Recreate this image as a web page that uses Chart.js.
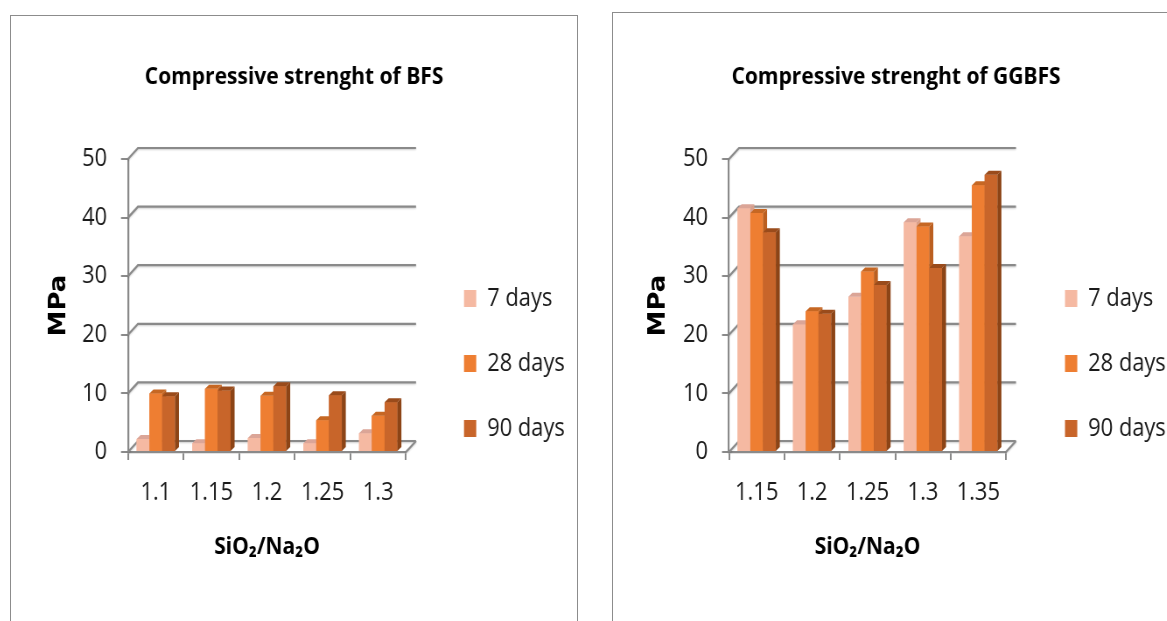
<!DOCTYPE html>
<html>
<head>
<meta charset="utf-8">
<script src="https://cdn.jsdelivr.net/npm/chart.js@4.4.0/dist/chart.umd.min.js"></script>
<style>
  html, body { margin: 0; padding: 0; background: #fff; overflow: hidden; width: 1167px; height: 621px; }
  .panel { position: absolute; box-sizing: border-box; border: 1px solid #8c8c8c; border-bottom: none; background: #fff; overflow: hidden; }
  #p1 { left: 10px; top: 15px; width: 568px; height: 606px; }
  #p2 { left: 612px; top: 12px; width: 568px; height: 609px; }
  /* the original is a squeezed Excel export: narrow everything a little */
  .panel canvas { display: block; transform: scaleX(0.875); transform-origin: 0 0; }
</style>
</head>
<body>
<div class="panel" id="p1"><canvas id="c1" width="647" height="605"></canvas></div>
<div class="panel" id="p2"><canvas id="c2" width="647" height="608"></canvas></div>
<script>
// data (MPa)
const seriesNames = ['7 days', '28 days', '90 days'];

const bfsRatios = ['1.1', '1.15', '1.2', '1.25', '1.3'];
const bfs7  = [2.2, 1.5, 2.4, 1.5, 3.2];
const bfs28 = [10.0, 10.8, 9.6, 5.4, 6.2];
const bfs90 = [9.5, 10.5, 11.2, 9.7, 8.5];

const ggbfsRatios = ['1.15', '1.2', '1.25', '1.3', '1.35'];
const ggbfs7  = [41.6, 21.8, 26.5, 39.2, 36.8];
const ggbfs28 = [40.8, 24.0, 30.8, 38.5, 45.5];
const ggbfs90 = [37.5, 23.6, 28.5, 31.4, 47.3];

const yMin = 0, yMax = 50, yStep = 10;

// front / side / top colours of the 3d columns
const front = ['#f5b9a2', '#ee7e32', '#c8652a'];
const side  = ['#d99f89', '#bb5f20', '#8c4416'];
const top3d = ['#dba597', '#c66723', '#9a4b1b'];

const K = 0.875; // horizontal squeeze set in the css
const FONT = "'Open Sans', 'DejaVu Sans', sans-serif";
const GRID = '#8a8a8a';

// fake 3d: back wall grid lines + side/top faces of every column
const depth3d = {
  id: 'depth3d',
  beforeDatasetsDraw(chart, args, o) {
    const {ctx, chartArea: a, scales: {y}} = chart;
    ctx.save();
    ctx.strokeStyle = GRID;
    ctx.lineWidth = 2.2;
    ctx.shadowColor = 'rgba(0,0,0,0.2)';
    ctx.shadowBlur = 2;
    ctx.shadowOffsetY = 1;
    ctx.beginPath();
    y.ticks.forEach(t => {
      const py = y.getPixelForValue(t.value);
      ctx.moveTo(a.left, py);
      ctx.lineTo(a.left + o.dx, py - o.dy);
      ctx.lineTo(a.right + o.dx, py - o.dy);
    });
    ctx.moveTo(a.right, a.bottom);
    ctx.lineTo(a.right + o.dx, a.bottom - o.dy);
    ctx.stroke();
    ctx.restore();
  },
  afterDatasetsDraw(chart, args, o) {
    const ctx = chart.ctx;
    const metas = chart.getSortedVisibleDatasetMetas();
    const bx = o.barX, by = o.barY;
    for (let i = 0; i < chart.data.labels.length; i++) {
      metas.forEach(meta => {
        const el = meta.data[i];
        const {x, y, base, width} = el.getProps(['x', 'y', 'base', 'width'], true);
        const l = x - width / 2, r = x + width / 2;
        el.draw(ctx);
        ctx.save();
        ctx.fillStyle = side[meta.index];
        ctx.beginPath();
        ctx.moveTo(r, y); ctx.lineTo(r + bx, y - by); ctx.lineTo(r + bx, base - by); ctx.lineTo(r, base);
        ctx.closePath(); ctx.fill();
        ctx.fillStyle = top3d[meta.index];
        ctx.beginPath();
        ctx.moveTo(l, y); ctx.lineTo(l + bx, y - by); ctx.lineTo(r + bx, y - by); ctx.lineTo(r, y);
        ctx.closePath(); ctx.fill();
        ctx.restore();
      });
    }
  }
};

// move the legend block to where the original has it
const legendNudge = {
  id: 'legendNudge',
  afterLayout(chart, args, o) {
    const lg = chart.legend;
    if (!lg) return;
    lg.left += o.dx;
    lg.right = chart.width;
    lg.top += o.dy; lg.bottom += o.dy;
  }
};

// g holds page pixel positions inside the panel; converted to canvas units here
function makeChart(id, titleText, labels, v7, v28, v90, g) {
  const canvas = document.getElementById(id);
  const pad = 50;
  const areaLeft = g.areaLeft / K, areaRight = g.areaRight / K;
  return new Chart(canvas, {
    type: 'bar',
    data: {
      labels: labels,
      datasets: [v7, v28, v90].map((v, k) => ({
        label: seriesNames[k],
        data: v,
        backgroundColor: front[k],
        borderColor: front[k],
        borderWidth: 0,
        categoryPercentage: 0.69,
        barPercentage: 1.0
      }))
    },
    options: {
      responsive: false,
      animation: false,
      layout: { padding: { left: pad, right: pad, top: 0, bottom: 0 } },
      plugins: {
        tooltip: { enabled: false },
        title: {
          display: true,
          text: titleText,
          color: '#000',
          font: { family: FONT, size: 24, weight: 'bold', lineHeight: 1.2 },
          padding: { top: g.titleTop, bottom: g.areaTop - g.titleTop - 28.8 }
        },
        legend: {
          position: 'right',
          fullSize: false,
          maxWidth: canvas.width - pad - areaRight,
          labels: {
            color: '#1a1a1a',
            font: { family: FONT, size: 25 },
            boxWidth: 14,
            boxHeight: 17,
            padding: 40
          }
        },
        legendNudge: { dx: (g.legendBox - g.areaRight) / K - 40, dy: 58 },
        depth3d: { dx: 10 / K, dy: 11, barX: 4 / K, barY: 4 }
      },
      scales: {
        x: {
          grid: { drawOnChartArea: false, drawTicks: true, tickLength: 8, color: GRID, lineWidth: 2 },
          border: { display: true, color: GRID, width: 2.2 },
          ticks: { color: '#1a1a1a', font: { family: FONT, size: 25, lineHeight: 1.2 }, padding: 18, maxRotation: 0 },
          title: {
            display: true,
            text: 'SiO\u2082/Na\u2082O',
            color: '#000',
            font: { family: FONT, size: 24, weight: 'bold', lineHeight: 1.2 },
            padding: { top: 0, bottom: 59 }
          },
          afterFit(scale) { scale.height = canvas.height - g.areaBottom; }
        },
        y: {
          min: yMin,
          max: yMax,
          grid: { drawOnChartArea: false, drawTicks: true, tickLength: 8, color: GRID, lineWidth: 2 },
          border: { display: true, color: GRID, width: 2.2 },
          ticks: { stepSize: yStep, color: '#1a1a1a', font: { family: FONT, size: 25 }, padding: 16 },
          title: {
            display: true,
            text: 'MPa',
            color: '#000',
            font: { family: "'DejaVu Sans', sans-serif", size: 26, weight: 'bold', lineHeight: 1.2 },
            padding: { top: g.mpaX / K - pad - 15.6, bottom: 0 }
          },
          afterFit(scale) { scale.width = areaLeft - pad; }
        }
      }
    },
    plugins: [depth3d, legendNudge]
  });
}

makeChart('c1', 'Compressive strenght of BFS', bfsRatios, bfs7, bfs28, bfs90,
  { areaLeft: 117, areaRight: 395, areaTop: 143, areaBottom: 436, titleTop: 47, mpaX: 48, legendBox: 453 });
makeChart('c2', 'Compressive strenght of GGBFS', ggbfsRatios, ggbfs7, ggbfs28, ggbfs90,
  { areaLeft: 116, areaRight: 393, areaTop: 146, areaBottom: 439, titleTop: 50, mpaX: 46, legendBox: 452 });
</script>
</body>
</html>
